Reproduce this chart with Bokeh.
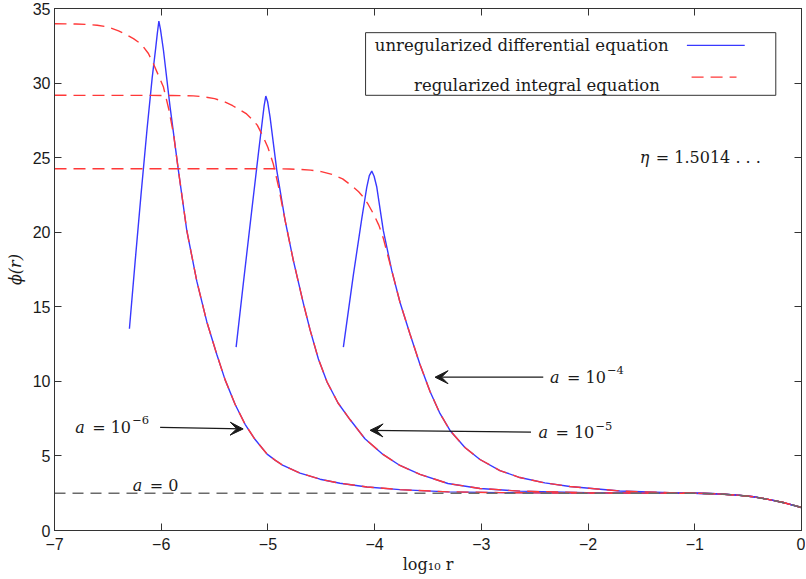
from bokeh.plotting import figure
from bokeh.models import LinearAxis, FixedTicker, Label, Arrow, VeeHead, BoxAnnotation
from bokeh.embed import file_html
from bokeh.resources import INLINE

# ---------------- data ----------------
x_ticks = [-7, -6, -5, -4, -3, -2, -1, 0]
x_tick_labels = ["\u22127", "\u22126", "\u22125", "\u22124", "\u22123", "\u22122", "\u22121", "0"]
y_ticks = [0, 5, 10, 15, 20, 25, 30, 35]
y_tick_labels = ["0", "5", "10", "15", "20", "25", "30", "35"]

# common end section where all solutions coincide
end_x = [-1.0, -0.8, -0.6, -0.45, -0.3, -0.15, 0.0]
end_y = [2.50, 2.46, 2.37, 2.26, 2.07, 1.84, 1.54]

# a = 0
a0_x = [-7.0, -1.2]
a0_y = [2.50, 2.50]

# a = 1e-6
blue6_x = [-6.298, -6.245, -6.189, -6.132, -6.085, -6.052, -6.037, -6.022, -6.007, -5.979, -5.917]
blue6_y = [13.53, 17.98, 22.54, 26.97, 30.33, 32.33, 33.30, 34.16, 33.60, 32.20, 28.40]
red6_x = [-7.0, -6.8, -6.7, -6.6, -6.5, -6.4, -6.33, -6.26, -6.2, -6.166, -6.12, -6.073,
          -6.03, -5.979, -5.93, -5.885]
red6_y = [33.98, 33.96, 33.93, 33.88, 33.76, 33.50, 33.26, 32.98, 32.68, 32.42, 31.98, 31.30,
          30.58, 29.73, 28.28, 26.60]
tail6_x = [-5.839, -5.760, -5.666, -5.573, -5.479, -5.401, -5.307, -5.214, -5.120, -5.008,
           -4.930, -4.858, -4.699, -4.512, -4.325, -4.072, -3.763, -3.313, -2.826, -2.3, -1.8, -1.3]
tail6_y = [24.15, 20.10, 16.70, 14.00, 11.80, 10.10, 8.45, 7.12, 6.10, 5.12,
           4.70, 4.36, 3.85, 3.44, 3.17, 2.92, 2.74, 2.59, 2.54, 2.515, 2.505, 2.50]

# a = 1e-5
blue5_x = [-5.298, -5.230, -5.151, -5.089, -5.052, -5.036, -5.020, -5.003, -4.980]
blue5_y = [12.29, 16.60, 21.50, 25.30, 27.50, 28.45, 29.13, 28.75, 27.72]
red5_x = [-7.0, -5.9, -5.7, -5.6, -5.5, -5.4, -5.33, -5.26, -5.2, -5.15, -5.1, -5.05,
          -5.0, -4.95, -4.902]
red5_y = [29.18, 29.17, 29.14, 29.08, 28.96, 28.72, 28.48, 28.20, 27.93, 27.58, 27.18, 26.48,
          25.68, 24.58, 23.10]
tail5_x = [-4.917, -4.839, -4.762, -4.668, -4.605, -4.527, -4.446, -4.343, -4.231, -4.091,
           -3.922, -3.763, -3.575, -3.313, -3.013, -2.639, -2.011, -1.6, -1.2]
tail5_y = [24.15, 20.79, 18.11, 15.23, 13.45, 11.50, 9.96, 8.55, 7.44, 6.15,
           5.10, 4.36, 3.76, 3.15, 2.82, 2.64, 2.53, 2.51, 2.50]

# a = 1e-4
blue4_x = [-4.293, -4.200, -4.121, -4.074, -4.050, -4.027, -4.005, -3.980, -3.919]
blue4_y = [12.29, 17.10, 20.90, 23.00, 23.80, 24.10, 23.75, 23.03, 20.12]
red4_x = [-7.0, -5.0, -4.8, -4.7, -4.6, -4.5, -4.4, -4.3, -4.2, -4.15, -4.106, -4.06,
          -4.012, -3.96, -3.919]
red4_y = [24.26, 24.26, 24.24, 24.21, 24.16, 24.06, 23.88, 23.58, 23.03, 22.71, 22.36, 21.86,
          21.24, 20.46, 19.60]
tail4_x = [-3.840, -3.762, -3.669, -3.575, -3.481, -3.388, -3.294, -3.154, -3.013, -2.826,
           -2.639, -2.405, -2.171, -1.702, -1.234]
tail4_y = [17.44, 15.29, 13.18, 11.13, 9.32, 7.85, 6.71, 5.57, 4.76, 4.02,
           3.55, 3.19, 2.95, 2.65, 2.53]

legend_labels = ["unregularized differential equation", "regularized integral equation"]
eta_text = "= 1.5014 . . ."

# ---------------- annotation placement (data coordinates) ----------------
ann_a6 = dict(label=(-6.806, 6.91), exp="\u22126", arrow=(-6.01, 6.91, -5.232, 6.81))
ann_a5 = dict(label=(-2.465, 6.57), exp="\u22125", arrow=(-2.535, 6.60, -4.043, 6.72))
ann_a4 = dict(label=(-2.357, 10.26), exp="\u22124", arrow=(-2.42, 10.28, -3.434, 10.28))
ann_a0 = (-6.266, 3.02)
ann_eta = (-1.515, 25.04)
leg_box = (-4.085, -0.241, 33.38, 29.18)
leg_rows = [(-3.998, 32.50, -1.074, -0.532, 32.53), (-3.631, 29.85, -1.030, -0.609, 30.40)]

BLUE = "#3838ff"
RED = "#ff3838"
GRAY = "#6a6a6a"
INK = "#1a1a1a"
SERIF = "DejaVu Serif"
SANS = "Liberation Sans"

p = figure(width=805, height=578, x_range=(-7, 0), y_range=(0, 35),
           output_backend="svg", toolbar_location=None,
           min_border_left=54, min_border_right=4, min_border_top=8, min_border_bottom=48)
p.title.visible = False
p.xgrid.visible = False
p.ygrid.visible = False
p.outline_line_color = "#333333"
p.background_fill_color = "white"

def style_axis(ax, ticks, labels=None):
    ax.ticker = FixedTicker(ticks=ticks)
    ax.major_tick_in = 7
    ax.major_tick_out = 0
    ax.minor_tick_line_color = None
    ax.axis_line_color = "#333333"
    ax.major_tick_line_color = "#333333"
    if labels is not None:
        ax.major_label_overrides = {t: l for t, l in zip(ticks, labels)}
        ax.major_label_text_font = SANS
        ax.major_label_text_font_size = "16px"
        ax.major_label_text_color = INK
    else:
        ax.major_label_text_font_size = "0px"
        ax.major_label_text_color = None
        ax.major_label_standoff = 0

xa = p.xaxis[0]
style_axis(xa, x_ticks, x_tick_labels)
xa.major_label_standoff = 7
xa.axis_label = "log\u2081\u2080 r"
xa.axis_label_text_font = SERIF
xa.axis_label_text_font_size = "16px"
xa.axis_label_text_font_style = "normal"
xa.axis_label_text_color = INK
xa.axis_label_standoff = 2

ya = p.yaxis[0]
style_axis(ya, y_ticks, y_tick_labels)
ya.major_label_standoff = 4
ya.axis_label = "\u03d5(r)"
ya.axis_label_text_font = SERIF
ya.axis_label_text_font_size = "16px"
ya.axis_label_text_font_style = "italic"
ya.axis_label_text_color = INK
ya.axis_label_standoff = 5

top = LinearAxis()
style_axis(top, x_ticks)
p.add_layout(top, "above")
right = LinearAxis()
style_axis(right, y_ticks)
p.add_layout(right, "right")

# ---------------- curves ----------------
for bx, by, tx, ty in [(blue6_x, blue6_y, tail6_x, tail6_y),
                       (blue5_x, blue5_y, tail5_x, tail5_y),
                       (blue4_x, blue4_y, tail4_x, tail4_y)]:
    p.line(bx + tx + end_x, by + ty + end_y, line_color=BLUE, line_width=1.4)

for rx, ry, tx, ty in [(red6_x, red6_y, tail6_x, tail6_y),
                       (red5_x, red5_y, tail5_x[1:], tail5_y[1:]),
                       (red4_x, red4_y, tail4_x, tail4_y)]:
    p.line(rx + tx + end_x, ry + ty + end_y, line_color=RED, line_width=1.4, line_dash="12 7")

p.line(a0_x + end_x, a0_y + end_y, line_color=GRAY, line_width=1.5, line_dash="11 7")

# ---------------- annotations ----------------
def a_label(x, y, rest, exp=None):
    p.add_layout(Label(x=x, y=y, text="a", text_font=SERIF, text_font_size="16px",
                       text_font_style="italic", text_color=INK, text_baseline="middle"))
    p.add_layout(Label(x=x, y=y, x_offset=17, text=rest, text_font=SERIF, text_font_size="16px",
                       text_color=INK, text_baseline="middle"))
    if exp is not None:
        p.add_layout(Label(x=x, y=y, x_offset=57, y_offset=7, text=exp, text_font=SERIF,
                           text_font_size="11.5px", text_color=INK, text_baseline="middle"))

for ann in (ann_a6, ann_a5, ann_a4):
    lx, ly = ann["label"]
    a_label(lx, ly, "= 10", ann["exp"])
    xs, ys, xe, ye = ann["arrow"]
    p.add_layout(Arrow(x_start=xs, y_start=ys, x_end=xe, y_end=ye, line_color=INK, line_width=1.2,
                       end=VeeHead(size=13, fill_color=INK, line_color=INK, line_width=1)))

a_label(ann_a0[0], ann_a0[1], "= 0")

p.add_layout(Label(x=ann_eta[0], y=ann_eta[1], text="\u03b7", text_font=SERIF, text_font_size="16px",
                   text_font_style="italic", text_color=INK, text_baseline="middle"))
p.add_layout(Label(x=ann_eta[0], y=ann_eta[1], x_offset=16, text=eta_text, text_font=SERIF,
                   text_font_size="16px", text_color=INK, text_baseline="middle"))

# legend (text left, sample line right, as in the reference)
bl, br, bt, bb = leg_box
p.add_layout(BoxAnnotation(left=bl, right=br, top=bt, bottom=bb, fill_color="white", fill_alpha=1.0,
                           line_color="#333333", line_width=1, line_alpha=1.0))
for (tx, ty, sx0, sx1, sy), txt, col, dash in zip(leg_rows, legend_labels, [BLUE, RED], ["solid", "12 7"]):
    p.add_layout(Label(x=tx, y=ty, text=txt, text_font=SERIF, text_font_size="16.5px",
                       text_color=INK, text_baseline="middle"))
    p.add_layout(Arrow(x_start=sx0, y_start=sy, x_end=sx1, y_end=sy, end=None,
                       line_color=col, line_width=1.4, line_dash=dash))

open("out.html", "w").write(file_html(p, INLINE))
